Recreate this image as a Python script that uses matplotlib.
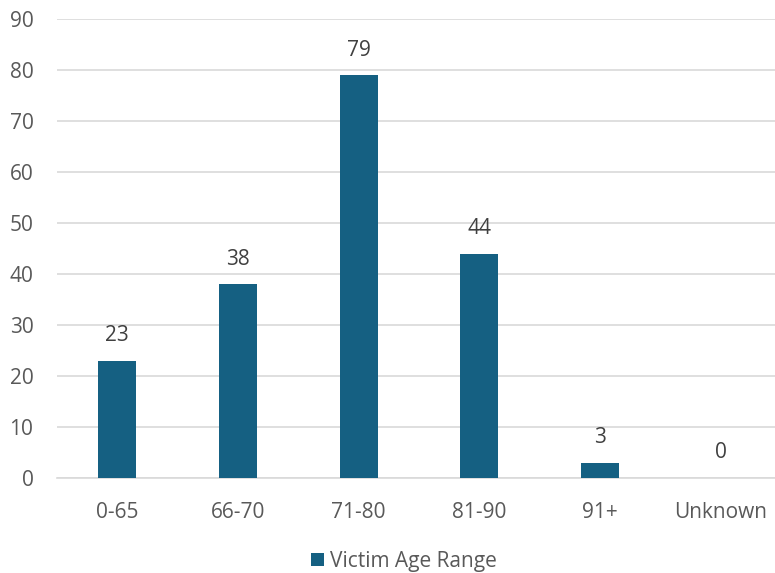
import matplotlib
matplotlib.use("Agg")
import matplotlib.pyplot as plt
from matplotlib.patches import Patch

# data
age_ranges = ["0-65", "66-70", "71-80", "81-90", "91+", "Unknown"]
victims = [23, 38, 79, 44, 3, 0]
series_name = "Victim Age Range"

BAR_COLOR = "#156082"
TEXT_COLOR = "#595959"
GRID_COLOR = "#D9D9D9"
FS = 15

plt.rcParams["font.family"] = ["Open Sans", "DejaVu Sans"]

fig = plt.figure(figsize=(7.75, 5.73), dpi=100)
# plot area extends a little past the right edge like the original
ax = fig.add_axes([57 / 775, 95 / 573, 724 / 775, 459 / 573])

x = range(len(age_ranges))
bars = ax.bar(x, victims, width=0.315, color=BAR_COLOR, zorder=3)

for xi, v in zip(x, victims):
    ax.annotate(str(v), (xi, v), xytext=(0, 10.5), textcoords="offset points",
                ha="center", va="bottom", fontsize=FS, color="#404040")

ax.set_xlim(-0.5, len(age_ranges) - 0.5)
ax.set_ylim(0, 90)
ax.set_yticks(range(0, 91, 10))
ax.set_xticks(list(x))
ax.set_xticklabels(age_ranges)
ax.tick_params(axis="both", length=0, labelsize=FS, labelcolor=TEXT_COLOR)
ax.tick_params(axis="x", pad=17)
ax.tick_params(axis="y", pad=17)

ax.grid(axis="y", color=GRID_COLOR, linewidth=1.2, zorder=0)
for side in ["top", "right", "left"]:
    ax.spines[side].set_visible(False)
ax.spines["bottom"].set_color(GRID_COLOR)
ax.spines["bottom"].set_linewidth(1.2)

handle = Patch(facecolor=BAR_COLOR, edgecolor="none")
fig.legend([handle], [series_name], loc="center", bbox_to_anchor=(404 / 775, 1 - 561 / 573),
           frameon=False, fontsize=FS, labelcolor=TEXT_COLOR,
           handlelength=0.6, handleheight=0.6, handletextpad=0.3)

fig.savefig("out.png", dpi=100)
